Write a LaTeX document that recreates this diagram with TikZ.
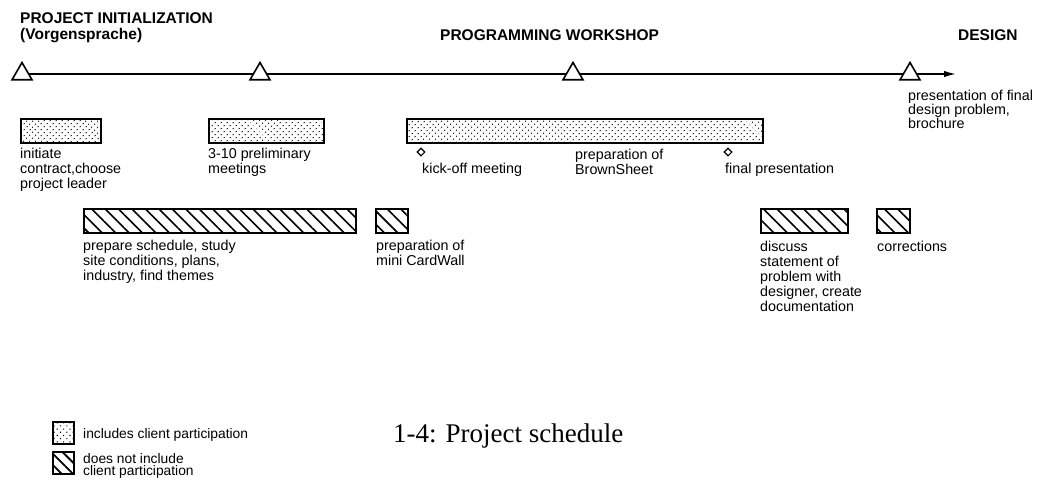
\documentclass[tikz,border=0pt]{standalone}
\usepackage{fontspec}
\setmainfont{Liberation Serif}
\newfontfamily\labelfont{Liberation Sans}
\usetikzlibrary{arrows.meta,shapes.geometric,patterns.meta,backgrounds}

\tikzset{
  bar/.style={draw, line width=1.8pt, anchor=north west, inner sep=0pt, minimum height=24pt},
  stipplebar/.style={bar, pattern={Dots[angle=45,distance=4pt,radius=0.7pt]}},
  hatchbar/.style={bar, pattern={Lines[angle=-45,distance=9.5pt,line width=1.6pt]}},
  keybox/.style={line width=1.8pt, minimum width=21pt, minimum height=22pt},
  milestone/.style={regular polygon, regular polygon sides=3, draw, fill=white,
    line width=1.6pt, minimum size=23pt, inner sep=0pt},
  event/.style={diamond, draw, fill=white, line width=1.1pt, minimum size=8pt, inner sep=0pt},
  txt/.style={anchor=north west, align=left, inner sep=0pt,
    font=\labelfont\fontsize{14.3}{15}\selectfont},
  head/.style={anchor=north west, align=left, inner sep=0pt,
    font=\labelfont\bfseries\fontsize{15.5}{16}\selectfont},
  legendtxt/.style={anchor=north west, align=left, inner sep=0pt,
    font=\labelfont\fontsize{13.8}{12.5}\selectfont},
}

\begin{document}
\begin{tikzpicture}[x=1pt,y=-1pt]
\useasboundingbox (0,0) rectangle (1047,480);

% phase headings
\node[head] (hInit) at (20,12) {PROJECT INITIALIZATION\\(Vorgensprache)};
\node[head] (hWork) at (440,29) {PROGRAMMING WORKSHOP};
\node[head] (hDesign) at (958,29) {DESIGN};

% milestones on the time line
\node[milestone] (m1) at (22,74) {};
\node[milestone] (m2) at (260,74) {};
\node[milestone] (m3) at (573,74) {};
\node[milestone] (m4) at (910,74) {};
\coordinate (tEnd) at (956,74);
\begin{scope}[on background layer]
  \draw[line width=1.5pt, -{Latex[length=12pt,width=6.5pt]}] (m1.center) -- (m2.center) -- (m3.center) -- (m4.center) -- (tEnd);
\end{scope}

\node[txt, font=\labelfont\fontsize{14.3}{14}\selectfont] (tFinal) at (908,89.6) {presentation of final\\design problem,\\brochure};

% activities with client participation
\node[stipplebar, minimum width=80pt] (b1) at (20,118) {};
\node[stipplebar, minimum width=115pt] (b2) at (208,118) {};
\node[stipplebar, minimum width=356pt] (b3) at (406,118) {};

\node[txt] (t1) at (20,147.6) {initiate\\contract,choose\\project leader};
\node[txt] (t2) at (208,147.6) {3-10 preliminary\\meetings};

\node[event] (e1) at (421,152) {};
\node[event] (e2) at (728,152) {};
\node[txt] (tKick) at (422,162.6) {kick-off meeting};
\node[txt] (tBrown) at (575,148.6) {preparation of\\BrownSheet};
\node[txt] (tPres) at (725,162.6) {final presentation};

% activities without client participation
\node[hatchbar, minimum width=272pt] (b4) at (83,208) {};
\node[hatchbar, minimum width=32pt] (b5) at (375,208) {};
\node[hatchbar, minimum width=87pt] (b6) at (760,208) {};
\node[hatchbar, minimum width=33pt] (b7) at (876,208) {};

\node[txt] (t4) at (83,239.6) {prepare schedule, study\\site conditions, plans,\\industry, find themes};
\node[txt] (t5) at (376,239.6) {preparation of\\mini CardWall};
\node[txt] (t6) at (760,240.6) {discuss\\statement of\\problem with\\designer, create\\documentation};
\node[txt] (t7) at (877,240.6) {corrections};

% legend
\node[stipplebar, keybox, pattern={Dots[angle=45,distance=4.5pt,radius=0.8pt]}] (kS) at (52,421) {};
\node[legendtxt] (kSt) at (83,428) {includes client participation};
\node[hatchbar, keybox, pattern={Lines[angle=-45,distance=8pt,line width=1.8pt]}] (kH) at (52,451) {};
\node[legendtxt] (kHt) at (83,453) {does not include\\client participation};

% caption
\node[anchor=base west, inner sep=0pt, font=\fontsize{27}{29}\selectfont] (cap) at (393,442) {1-4: Project schedule};
\end{tikzpicture}
\end{document}
